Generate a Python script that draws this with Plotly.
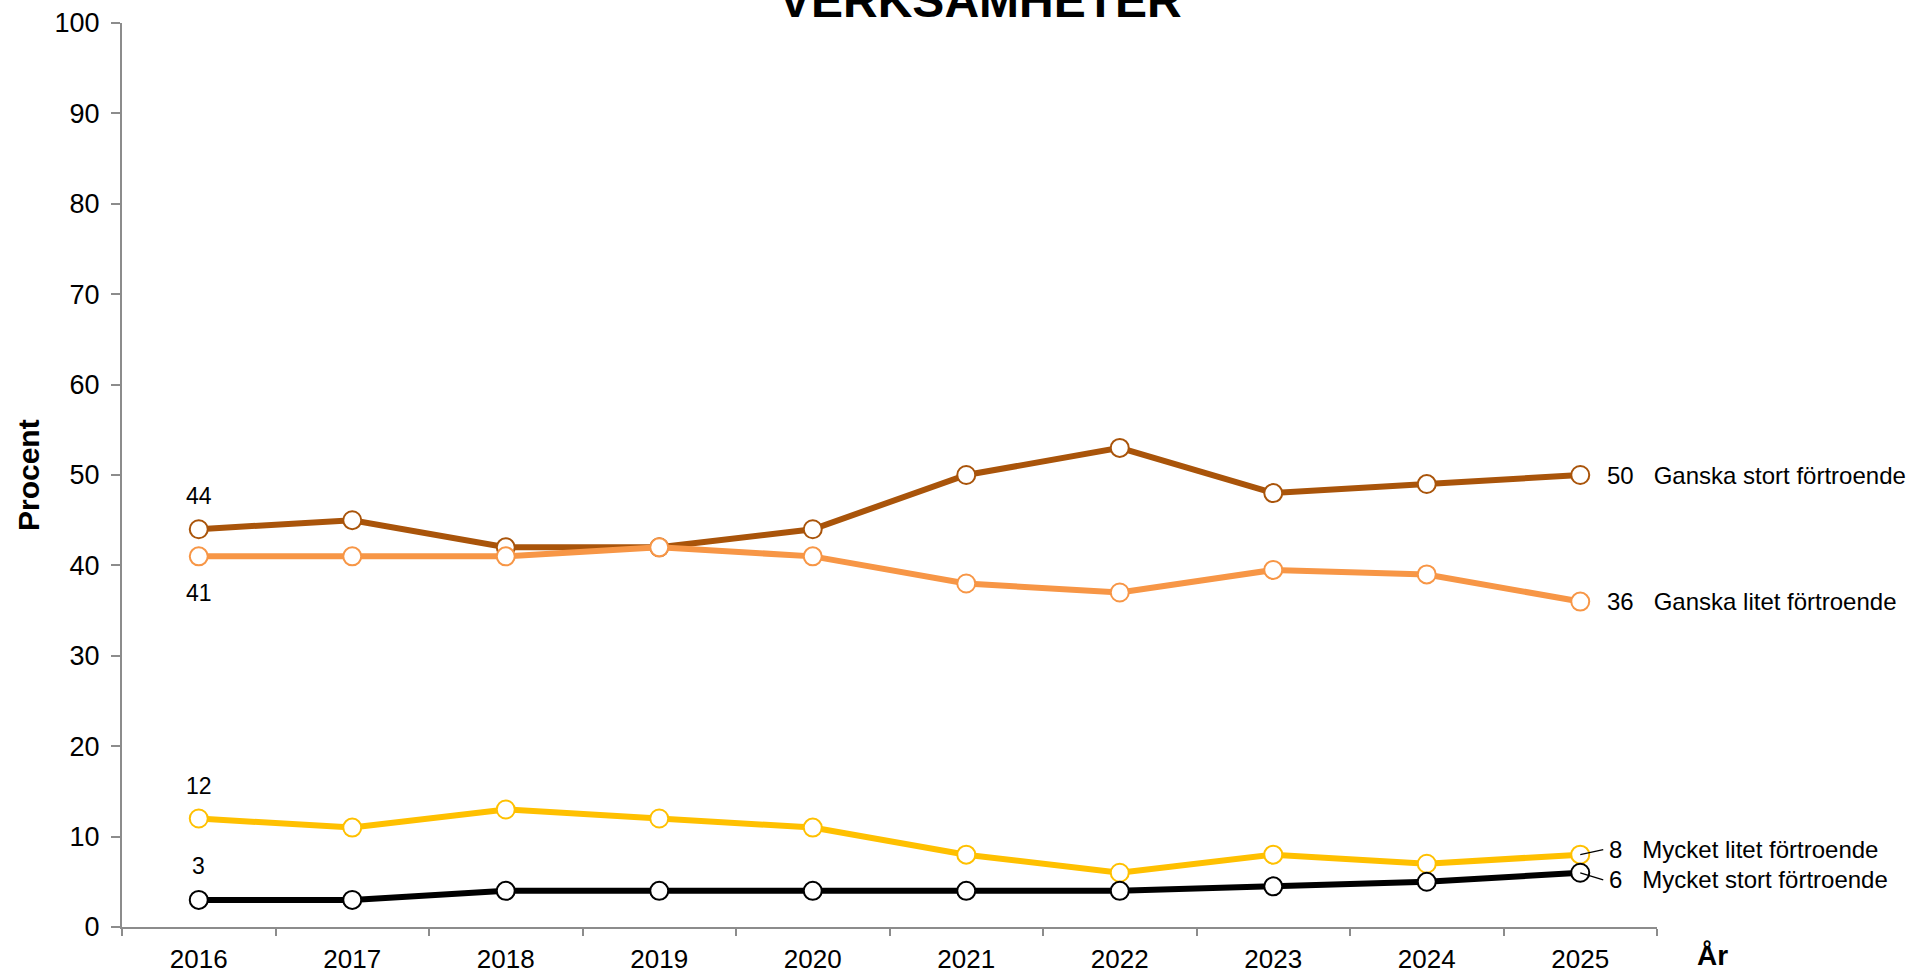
import plotly.graph_objects as go

years = ["2016", "2017", "2018", "2019", "2020", "2021", "2022", "2023", "2024", "2025"]
ganska_stort = [44, 45, 42, 42, 44, 50, 53, 48, 49, 50]
ganska_litet = [41, 41, 41, 42, 41, 38, 37, 39.5, 39, 36]
mycket_litet = [12, 11, 13, 12, 11, 8, 6, 8, 7, 8]
mycket_stort = [3, 3, 4, 4, 4, 4, 4, 4.5, 5, 6]

series_names = ["Ganska stort förtroende", "Ganska litet förtroende",
                "Mycket litet förtroende", "Mycket stort förtroende"]
series_values = [ganska_stort, ganska_litet, mycket_litet, mycket_stort]
series_colors = ["#A9540A", "#F79646", "#FFC000", "#000000"]

FONT = "Arial, Liberation Sans, sans-serif"
AXIS_COLOR = "#8C8C8C"

fig = go.Figure()
for name, vals, col in zip(series_names, series_values, series_colors):
    fig.add_trace(go.Scatter(
        x=years, y=vals, name=name, mode="lines+markers",
        line=dict(color=col, width=6),
        marker=dict(symbol="circle", size=18, color="white",
                    line=dict(color=col, width=2)),
        cliponaxis=False,
    ))

first_idx = 0
last_idx = len(years) - 1

annotations = []
# first-year data labels
first_shift = [33, -37, 33, 34]
for vals, sh in zip(series_values, first_shift):
    annotations.append(dict(x=first_idx, y=vals[0], xref="x", yref="y",
                            text=f"{vals[0]:g}", showarrow=False,
                            xanchor="center", yanchor="middle", yshift=sh,
                            font=dict(family=FONT, size=23, color="black")))

# end labels
sp = "\u00a0" * 3
for i, (name, vals) in enumerate(zip(series_names, series_values)):
    txt = f"{vals[-1]:g}{sp}{name}"
    if i < 2:
        annotations.append(dict(x=last_idx, y=vals[-1], xref="x", yref="y",
                                text=txt, showarrow=False,
                                xanchor="left", yanchor="middle", xshift=25,
                                font=dict(family=FONT, size=24, color="black")))
    else:
        ay = -5 if i == 2 else 7
        annotations.append(dict(x=last_idx, y=vals[-1], xref="x", yref="y",
                                text=txt, showarrow=True,
                                ax=23, ay=ay, xanchor="left", yanchor="middle",
                                borderpad=5,
                                arrowhead=0, arrowwidth=1.3, arrowcolor="black",
                                font=dict(family=FONT, size=24, color="black")))

# title (cut off at top)
annotations.append(dict(xref="paper", yref="paper", x=0.559, y=1, yanchor="bottom",
                        xanchor="center", yshift=-6,
                        text="<b>VERKSAMHETER</b>", showarrow=False,
                        font=dict(family=FONT, size=48, color="black")))
# y axis title
annotations.append(dict(xref="paper", yref="paper", x=-0.0612, y=0.5, textangle=-90,
                        xanchor="center", yanchor="middle",
                        text="<b>Procent</b>", showarrow=False,
                        font=dict(family=FONT, size=30, color="black")))
# x axis title
annotations.append(dict(xref="paper", yref="paper", x=1.036, y=-0.031,
                        xanchor="center", yanchor="middle",
                        text="<b>År</b>", showarrow=False,
                        font=dict(family=FONT, size=28, color="black")))

fig.update_layout(
    template="none",
    width=1908, height=970,
    margin=dict(l=122, r=251, t=23, b=43, autoexpand=False),
    paper_bgcolor="white", plot_bgcolor="white",
    showlegend=False,
    annotations=annotations,
    font=dict(family=FONT, color="black"),
    xaxis=dict(type="category", range=[-0.5, 9.5], tickson="boundaries",
               automargin=False,
               ticks="outside", ticklen=7, tickwidth=2, tickcolor=AXIS_COLOR,
               showline=True, linecolor=AXIS_COLOR, linewidth=2,
               showgrid=False, zeroline=False, ticklabelstandoff=8,
               tickfont=dict(family=FONT, size=26, color="black")),
    yaxis=dict(range=[0, 100], dtick=10, tick0=0, automargin=False,
               ticks="outside", ticklen=9, tickwidth=2, tickcolor=AXIS_COLOR,
               showline=True, linecolor=AXIS_COLOR, linewidth=2,
               showgrid=False, zeroline=False, ticklabelstandoff=6,
               tickfont=dict(family=FONT, size=27, color="black")),
)

fig.write_html(
    "out.html",
    config={"displayModeBar": False},
    post_script="document.body.style.margin='0px';document.body.style.overflow='hidden';",
)
